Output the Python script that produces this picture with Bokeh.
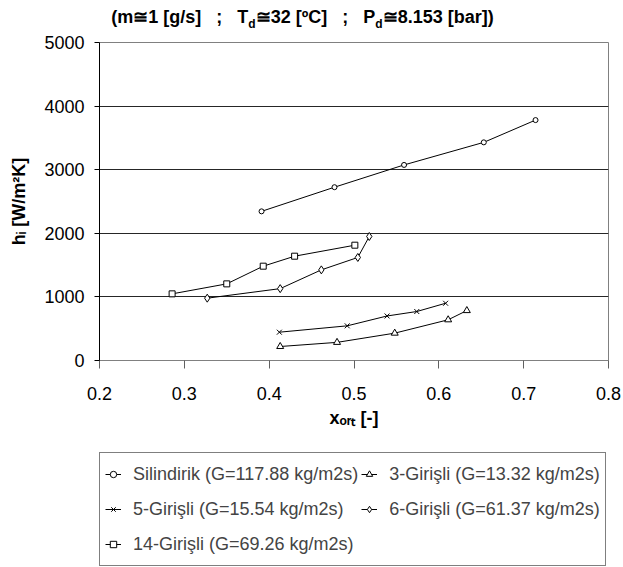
from bokeh.plotting import figure
from bokeh.models import (Range1d, FixedTicker, Legend, LegendItem, Div)
from bokeh.layouts import column
from bokeh.embed import file_html
from bokeh.resources import INLINE

# ---- data ----
x_sil = [0.391, 0.477, 0.559, 0.653, 0.714]
h_sil = [2345, 2725, 3075, 3430, 3780]

x_3 = [0.413, 0.480, 0.548, 0.611, 0.633]
h_3 = [220, 285, 430, 640, 785]

x_5 = [0.412, 0.492, 0.539, 0.574, 0.608]
h_5 = [445, 545, 700, 770, 900]

x_6 = [0.327, 0.413, 0.4615, 0.5045, 0.518]
h_6 = [980, 1130, 1425, 1620, 1950]

x_14 = [0.2856, 0.350, 0.393, 0.430, 0.501]
h_14 = [1048, 1205, 1483, 1640, 1813]

series_labels = ["Silindirik (G=117.88 kg/m2s)", "3-Girişli (G=13.32 kg/m2s)",
                 "5-Girişli (G=15.54 kg/m2s)", "6-Girişli (G=61.37 kg/m2s)",
                 "14-Girişli (G=69.26 kg/m2s)"]
x_ticks = [0.2, 0.3, 0.4, 0.5, 0.6, 0.7, 0.8]
y_ticks = [0, 1000, 2000, 3000, 4000, 5000]

FONT = "Liberation Sans"

title_html = ("(m≅1 [g/s]&nbsp;&nbsp; ;&nbsp;&nbsp; T<sub style='font-size:12px'>d</sub>"
              "≅32 [ºC]&nbsp;&nbsp; ;&nbsp;&nbsp; P<sub style='font-size:12px'>d</sub>"
              "≅8.153 [bar])")
title_div = Div(text=title_html, width=605, height=30, margin=0,
                styles={"font-family": FONT, "font-size": "18px", "font-weight": "bold",
                        "line-height": "20px", "padding-top": "7px",
                        "text-align": "center", "color": "black", "white-space": "nowrap",
                        "width": "605px"})

p = figure(width=623, height=410, output_backend="svg", toolbar_location=None,
           x_range=Range1d(0.2, 0.8), y_range=Range1d(0, 5000),
           min_border_left=99, min_border_right=15, min_border_top=12,
           min_border_bottom=80, margin=0)
p.title.visible = False
p.background_fill_color = "white"
p.border_fill_color = "white"
p.outline_line_color = "#808080"
p.outline_line_width = 1

# axes
p.xaxis.ticker = FixedTicker(ticks=x_ticks)
p.xaxis.major_label_overrides = {t: f"{t:.1f}" for t in x_ticks}
p.yaxis.ticker = FixedTicker(ticks=y_ticks)
p.yaxis.major_label_overrides = {t: str(t) for t in y_ticks}
for ax in (p.xaxis[0], p.yaxis[0]):
    ax.major_label_text_font = FONT
    ax.major_label_text_font_size = "18px"
    ax.major_label_text_color = "black"
    ax.minor_tick_line_color = None
    ax.major_tick_in = 0
    ax.axis_label_text_font = FONT
    ax.axis_label_text_font_size = "18px"
    ax.axis_label_text_font_style = "bold"
    ax.axis_label_text_color = "black"
p.xaxis.axis_line_color = "#808080"
p.xaxis.major_tick_line_color = "#606060"
p.xaxis.major_tick_out = 8
p.xaxis.major_label_standoff = 18
p.xaxis.axis_label = "xₒᵣₜ [-]"
p.xaxis.axis_label_standoff = 5
p.yaxis.axis_line_color = "black"
p.yaxis.major_tick_line_color = "black"
p.yaxis.major_tick_out = 5
p.yaxis.major_label_standoff = 10
p.yaxis.axis_label = "hᵢ [W/m²K]"
p.yaxis.axis_label_standoff = 12

p.xgrid.grid_line_color = None
p.ygrid.grid_line_color = "black"
p.ygrid.grid_line_width = 1
p.ygrid.grid_line_alpha = 0.85

specs = [
    (x_sil, h_sil, "circle", 5),
    (x_3, h_3, "triangle", 7),
    (x_5, h_5, "x", 7),
    (x_6, h_6, "diamond", 8),
    (x_14, h_14, "square", 6),
]

# legend panel: a second, axis-less figure whose view range lies away from the data,
# so only the legend (built from the same series styles) is visible there
q = figure(width=623, height=127, output_backend="svg", toolbar_location=None,
           x_range=Range1d(0, 1), y_range=Range1d(-2, -1),
           x_axis_location=None, y_axis_location=None,
           min_border=0, min_border_left=0, min_border_right=0,
           min_border_top=0, min_border_bottom=0, margin=0)
q.title.visible = False
q.grid.grid_line_color = None
q.outline_line_color = None
q.background_fill_color = "white"
q.border_fill_color = "white"

items = []
for (xs, hs, mk, sz), lab in zip(specs, series_labels):
    p.line(xs, hs, line_color="black", line_width=1)
    p.scatter(xs, hs, marker=mk, size=sz, fill_color="white",
              line_color="black", line_width=1)
    lr = q.line(xs, hs, line_color="black", line_width=1)
    sr = q.scatter(xs, hs, marker=mk, size=sz, fill_color="white",
                   line_color="black", line_width=1)
    items.append(LegendItem(label=lab, renderers=[lr, sr]))

# legend fills column by column: put items so rows read
# (Silindirik, 3-Girişli), (5-Girişli, 6-Girişli), (14-Girişli)
order = [0, 2, 4, 1, 3]
legend = Legend(items=[items[i] for i in order], location=(0, 1), ncols=2,
                label_text_font=FONT, label_text_font_size="18px",
                glyph_width=16, glyph_height=32, label_height=32,
                label_standoff=12, spacing=3, padding=5, margin=0,
                border_line_color="black", border_line_width=1,
                background_fill_color="white", background_fill_alpha=1)
q.add_layout(legend)

layout = column(title_div, p, q, spacing=0, margin=0)
open("out.html", "w").write(file_html(layout, INLINE))
